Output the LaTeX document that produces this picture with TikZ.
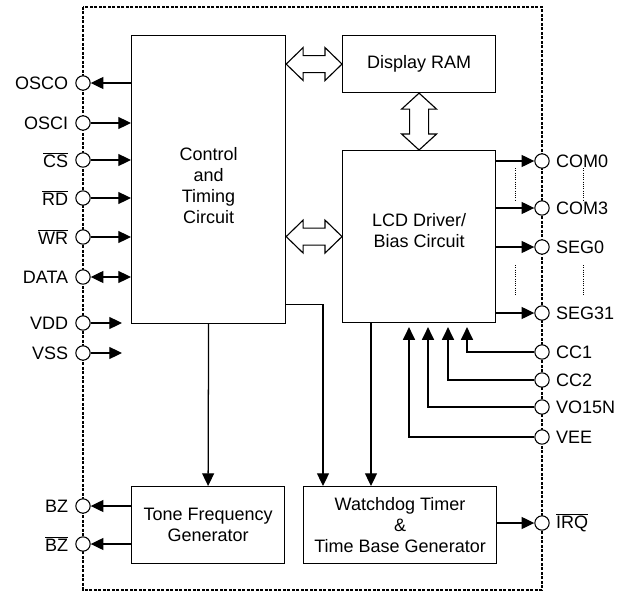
\documentclass[tikz,border=0pt]{standalone}
\usepackage{fontspec}
\setmainfont{Liberation Sans}
\usetikzlibrary{arrows.meta,positioning,calc}
\tikzset{
  blk/.style={draw, line width=0.8pt, align=center, inner sep=2pt, anchor=north west},
  pin/.style={circle, draw, fill=white, line width=0.75pt, inner sep=0pt, minimum size=10.2pt},
  arr/.style={-{Triangle[length=9pt, width=8.5pt]}, line width=0.9pt},
  biarr/.style={{Triangle[length=9pt, width=8.5pt]}-{Triangle[length=9pt, width=8.5pt]}, line width=0.9pt},
  bus/.style={draw, line width=0.8pt, fill=white, line join=miter},
  chip/.style={line width=0.9pt, dash pattern=on 2pt off 1.2pt},
  gap/.style={line width=0.6pt, dash pattern=on 0.8pt off 0.8pt},
}

\begin{document}
\begin{tikzpicture}[x=0.025cm, y=-0.025cm, font=\fontsize{12.8}{15}\selectfont]
  \useasboundingbox (0,0) rectangle (618,592);
  \draw[chip] (83,7) rectangle (542,590);
  % blocks
  \node[blk, minimum width=3.85cm, minimum height=7.2cm] (ctrl) at (131,35) {\rule{0pt}{17.8pt}Control\\and\\Timing\\Circuit};
  \node[blk, minimum width=3.825cm, minimum height=1.425cm] (ram) at (342,35) {Display RAM};
  \node[blk, minimum width=3.825cm, minimum height=4.3cm] (lcd) at (342,150) {LCD Driver/\\Bias Circuit\rule[-8.5pt]{0pt}{8.5pt}};
  \node[blk, minimum width=3.825cm, minimum height=1.925cm] (tone) at (131,486) {Tone Frequency\\Generator};
  \node[blk, minimum width=4.825cm, minimum height=1.925cm] (wdt) at (303,486) {Watchdog Timer\\\&\\Time Base Generator};
  % pins
  \foreach \nm/\y/\txt in {osco/83/OSCO, osci/123/OSCI, cs/160/{$\overline{\hbox{CS}}$}, rd/198/{$\overline{\hbox{RD}}$},
      wr/237/{$\overline{\hbox{WR}}$}, data/277/DATA, vdd/323/VDD, vss/353/VSS, bz/506/BZ, bzn/544/{$\overline{\hbox{BZ}}$}}
    \node[pin, label={[label distance=1.5pt]left:\txt}] (\nm) at (83,\y) {};
  \foreach \nm/\y/\txt in {com0/161/COM0, com3/208/COM3, seg0/247/SEG0, seg31/313/SEG31, cc1/352/CC1, cc2/380/CC2,
      vo15n/407/VO15N, vee/437/VEE, irq/523/{$\overline{\hbox{IRQ}}$}}
    \node[pin, label={[label distance=1pt]right:\txt}] (\nm) at (542,\y) {};
  % left side
  \draw[arr] (osco -| ctrl.west) -- (osco);
  \foreach \nm in {osci,cs,rd,wr} \draw[arr] (\nm) -- (\nm -| ctrl.west);
  \draw[biarr] (data) -- (data -| ctrl.west);
  \foreach \nm in {vdd,vss} \draw[arr] (\nm) -- ($(\nm -| ctrl.west)+(-9,0)$);
  \foreach \nm in {bz,bzn} \draw[arr] (\nm -| tone.west) -- (\nm);
  % right side
  \foreach \nm in {com0,com3,seg0,seg31} \draw[arr] (\nm -| lcd.east) -- (\nm);
  \foreach \nm/\dx in {cc1/125, cc2/106, vo15n/86, vee/67}
    \draw[arr, shorten >=2.8pt] (\nm) -| ($(lcd.south west)+(\dx,0)$);
  \draw[arr] (irq -| wdt.east) -- (irq);
  \foreach \x in {515,583} {
    \draw[gap] (\x,168) -- (\x,200);
    \draw[gap] (\x,265) -- (\x,295);
  }
  % internal
  \draw[arr] (ctrl.south) -- (tone.north);
  \draw[arr] ($(ctrl.south east)+(0,-20)$) -| ($(wdt.north west)+(20,0)$);
  \draw[arr] ($(lcd.south west)+(29,0)$) coordinate (lcdout) -- (lcdout |- wdt.north);
  % buses
  \foreach \dst in {ram,lcd}
    \path[bus] (\dst.west -| ctrl.east) coordinate (p) -- ++(17,-16.5) -- ++(0,8) -- ($(\dst.west)+(-17,-8.5)$) -- ++(0,-8)
      -- (\dst.west) -- ++(-17,16.5) -- ++(0,-8) -- ($(p)+(17,8.5)$) -- ++(0,8) -- cycle;
  \path[bus] (ram.south) -- ++(17.5,16) -- ++(-8,0) -- ($(lcd.north)+(9.5,-16)$) -- ++(8,0)
    -- (lcd.north) -- ++(-17.5,-16) -- ++(8,0) -- ($(ram.south)+(-9.5,16)$) -- ++(-8,0) -- cycle;
\end{tikzpicture}
\end{document}
